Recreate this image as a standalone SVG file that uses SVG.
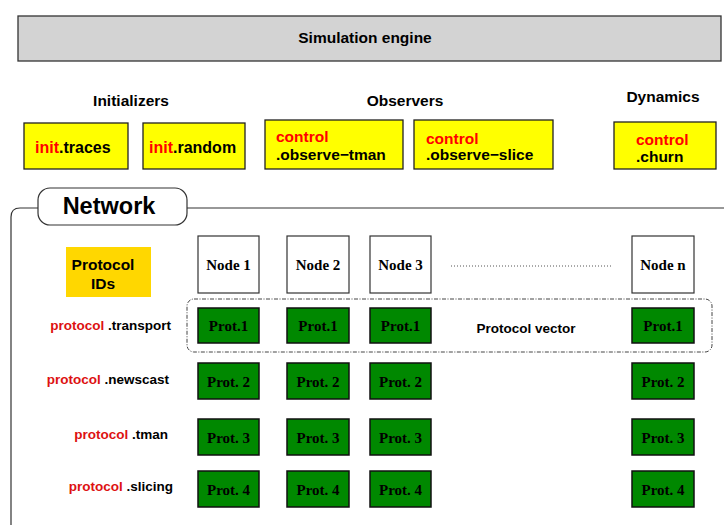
<svg xmlns="http://www.w3.org/2000/svg" width="724" height="525" viewBox="0 0 724 525">
<style>
.s{font-family:"Liberation Sans",Arial,sans-serif;font-weight:bold}
.r{font-family:"Liberation Serif","Times New Roman",serif;font-weight:bold;font-size:15px}
.y{fill:#ffff00;stroke:#222;stroke-width:1.3}
.n{fill:#fff;stroke:#333;stroke-width:1.2}
.g{fill:#008800;stroke:#111;stroke-width:1.5}
.red{fill:#ff0000}
.dr{fill:#dd1111}
</style>
<rect width="724" height="525" fill="#fff"/>
<g id="engine">
<rect x="18" y="16" width="703" height="45" fill="#d3d3d3" stroke="#333" stroke-width="1.3"/>
<text class="s" x="365" y="43" font-size="15.5" text-anchor="middle">Simulation engine</text>
</g>
<g id="headers">
<text class="s" x="131" y="106" font-size="15.5" text-anchor="middle">Initializers</text>
<text class="s" x="405" y="106" font-size="15.5" text-anchor="middle">Observers</text>
<text class="s" x="663" y="102" font-size="15.5" text-anchor="middle">Dynamics</text>
</g>
<g id="init-traces">
<rect class="y" x="24" y="123" width="104" height="46"/>
<text class="s" x="35" y="153" font-size="16"><tspan class="red">init</tspan>.traces</text>
</g>
<g id="init-random">
<rect class="y" x="143" y="123" width="102" height="46"/>
<text class="s" x="149" y="153" font-size="16"><tspan class="red">init</tspan>.random</text>
</g>
<g id="observe-tman">
<rect class="y" x="265" y="120" width="138" height="49"/>
<text class="s" x="276" y="142" font-size="15.5" fill="#ff0000">control</text>
<text class="s" x="276" y="160" font-size="15.5">.observe−tman</text>
</g>
<g id="observe-slice">
<rect class="y" x="414" y="120" width="139" height="49"/>
<text class="s" x="426" y="144" font-size="15.5" fill="#ff0000">control</text>
<text class="s" x="426" y="160" font-size="15.5">.observe−slice</text>
</g>
<g id="churn">
<rect class="y" x="614" y="122" width="102" height="47"/>
<text class="s" x="636" y="145" font-size="15.5" fill="#ff0000">control</text>
<text class="s" x="636" y="162" font-size="15.5">.churn</text>
</g>
<g id="network">
<path d="M38 208 H20 Q11 208 11 217 V525" fill="none" stroke="#333" stroke-width="1.2"/>
<path d="M187 208 H724" fill="none" stroke="#333" stroke-width="1.2"/>
<rect x="38" y="188" width="149" height="37" rx="12" fill="#fff" stroke="#333" stroke-width="1.2"/>
<text class="s" x="109" y="214" font-size="23.5" text-anchor="middle">Network</text>
</g>
<g id="protocol-ids">
<rect x="66" y="247" width="85" height="50" fill="#ffd700"/>
<text class="s" x="103" y="270" font-size="15.5" text-anchor="middle">Protocol</text>
<text class="s" x="103" y="289" font-size="15.5" text-anchor="middle">IDs</text>
</g>
<g id="nodes">
<rect class="n" x="198" y="236" width="61" height="57"/>
<text class="r" x="228.5" y="270" text-anchor="middle">Node 1</text>
<rect class="n" x="287" y="236" width="62" height="57"/>
<text class="r" x="318" y="270" text-anchor="middle">Node 2</text>
<rect class="n" x="370" y="236" width="61" height="57"/>
<text class="r" x="400.5" y="270" text-anchor="middle">Node 3</text>
<rect class="n" x="632" y="236" width="62" height="57"/>
<text class="r" x="663" y="270" text-anchor="middle">Node n</text>
</g>
<g id="connectors">
<line x1="451" y1="266" x2="612" y2="266" stroke="#555" stroke-width="1" stroke-dasharray="1,2"/>
</g>
<g id="protocol-vector">
<rect x="187" y="299" width="525" height="53" rx="7" fill="none" stroke="#444" stroke-width="1" stroke-dasharray="4,1.5,1,1.5"/>
<text class="s" x="526" y="333" font-size="13.5" text-anchor="middle">Protocol vector</text>
</g>
<g id="labels">
<text class="s" x="171" y="330" font-size="13.5" text-anchor="end"><tspan class="dr">protocol</tspan> .transport</text>
<text class="s" x="169" y="384" font-size="13.5" text-anchor="end"><tspan class="dr">protocol</tspan> .newscast</text>
<text class="s" x="168" y="439" font-size="13.5" text-anchor="end"><tspan class="dr">protocol</tspan> .tman</text>
<text class="s" x="173" y="491" font-size="13.5" text-anchor="end"><tspan class="dr">protocol</tspan> .slicing</text>
</g>
<g id="prot-row1">
<rect class="g" x="198" y="308" width="61" height="35"/><text class="r" x="228.5" y="331" text-anchor="middle">Prot.1</text>
<rect class="g" x="287" y="308" width="62" height="35"/><text class="r" x="318" y="331" text-anchor="middle">Prot.1</text>
<rect class="g" x="370" y="308" width="61" height="35"/><text class="r" x="400.5" y="331" text-anchor="middle">Prot.1</text>
<rect class="g" x="632" y="308" width="62" height="35"/><text class="r" x="663" y="331" text-anchor="middle">Prot.1</text>
</g>
<g id="prot-row2">
<rect class="g" x="198" y="363" width="61" height="36"/><text class="r" x="228.5" y="387" text-anchor="middle">Prot. 2</text>
<rect class="g" x="287" y="363" width="62" height="36"/><text class="r" x="318" y="387" text-anchor="middle">Prot. 2</text>
<rect class="g" x="370" y="363" width="61" height="36"/><text class="r" x="400.5" y="387" text-anchor="middle">Prot. 2</text>
<rect class="g" x="632" y="363" width="62" height="36"/><text class="r" x="663" y="387" text-anchor="middle">Prot. 2</text>
</g>
<g id="prot-row3">
<rect class="g" x="198" y="419" width="61" height="36"/><text class="r" x="228.5" y="443" text-anchor="middle">Prot. 3</text>
<rect class="g" x="287" y="419" width="62" height="36"/><text class="r" x="318" y="443" text-anchor="middle">Prot. 3</text>
<rect class="g" x="370" y="419" width="61" height="36"/><text class="r" x="400.5" y="443" text-anchor="middle">Prot. 3</text>
<rect class="g" x="632" y="419" width="62" height="36"/><text class="r" x="663" y="443" text-anchor="middle">Prot. 3</text>
</g>
<g id="prot-row4">
<rect class="g" x="198" y="471" width="61" height="36"/><text class="r" x="228.5" y="495" text-anchor="middle">Prot. 4</text>
<rect class="g" x="287" y="471" width="62" height="36"/><text class="r" x="318" y="495" text-anchor="middle">Prot. 4</text>
<rect class="g" x="370" y="471" width="61" height="36"/><text class="r" x="400.5" y="495" text-anchor="middle">Prot. 4</text>
<rect class="g" x="632" y="471" width="62" height="36"/><text class="r" x="663" y="495" text-anchor="middle">Prot. 4</text>
</g>
</svg>
